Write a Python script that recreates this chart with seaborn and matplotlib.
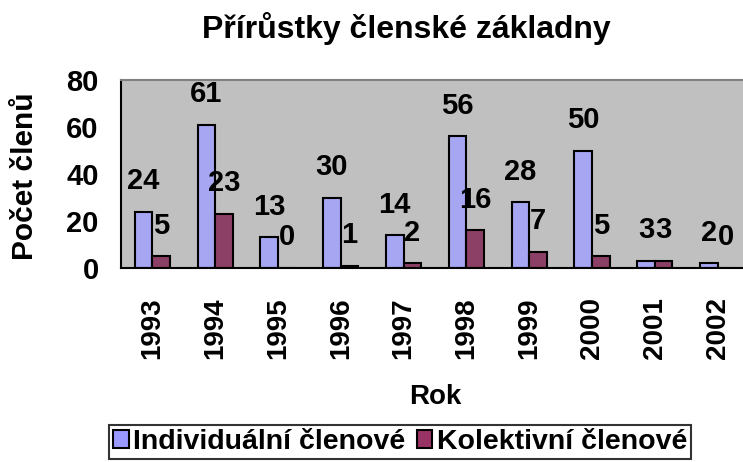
import matplotlib
matplotlib.use("Agg")
import matplotlib.pyplot as plt
import seaborn as sns
import pandas as pd
from matplotlib.patches import Patch

years = ["1993", "1994", "1995", "1996", "1997", "1998", "1999", "2000", "2001", "2002"]
individual = [24, 61, 13, 30, 14, 56, 28, 50, 3, 2]
collective = [5, 23, 0, 1, 2, 16, 7, 5, 3, 0]
series_names = ["Individuální členové", "Kolektivní členové"]
colors = ["#9999FF", "#993366"]

df = pd.DataFrame({
    "Rok": years * 2,
    "Počet": individual + collective,
    "Typ": [series_names[0]] * len(years) + [series_names[1]] * len(years),
})

sns.set_theme(style="white")
plt.rcParams["font.family"] = ["Liberation Sans", "DejaVu Sans"]
plt.rcParams["font.weight"] = "bold"
for key in ["text.color", "axes.labelcolor", "xtick.color", "ytick.color"]:
    plt.rcParams[key] = "black"

W, H = 743, 462
fig = plt.figure(figsize=(W / 100, H / 100), dpi=100)
ax = fig.add_axes([121 / W, 1 - 268 / H, 628 / W, 188 / H])
ax.set_facecolor("#C0C0C0")

sns.barplot(data=df, x="Rok", y="Počet", hue="Typ", palette=colors,
            width=0.56, edgecolor="black", linewidth=1.5, ax=ax, legend=False)

for cont in ax.containers:
    for bar, v in zip(cont, cont.datavalues):
        ax.annotate(f"{v:g}", (bar.get_x() + bar.get_width() / 2, bar.get_height()),
                    xytext=(0, 22), textcoords="offset points", ha="center", va="center",
                    fontsize=21, fontweight="bold", color="black")

ax.set_ylim(0, 80)
ax.set_yticks([0, 20, 40, 60, 80])
ax.set_xlim(-0.5, 9.5)
ax.set_xticks(range(len(years)))
ax.set_xticklabels(years, rotation=90, fontsize=20, fontweight="bold", color="black")
ax.set_xticks([i - 0.5 for i in range(len(years) + 1)], minor=True)
ax.tick_params(axis="x", which="major", length=0, pad=21, labelcolor="black")
ax.tick_params(axis="x", which="minor", length=7, width=1.5, color="black", direction="out")
ax.tick_params(axis="y", which="major", length=7, width=1.5, color="black", direction="out",
               labelsize=21, pad=9, labelcolor="black")
for lab in ax.get_yticklabels():
    lab.set_fontweight("bold")

for s in ["left", "bottom"]:
    ax.spines[s].set_color("black")
    ax.spines[s].set_linewidth(1.5)
ax.spines["top"].set_color("#808080")
ax.spines["top"].set_linewidth(1.5)
ax.spines["right"].set_visible(False)

ax.set_xlabel("Rok", fontsize=20, fontweight="bold", va="center", ha="center", color="black")
ax.xaxis.set_label_coords(0.5, (268 - 397) / 188)
ax.set_ylabel("Počet členů", fontsize=21.5, fontweight="bold", va="center", ha="center",
              color="black")
ax.yaxis.set_label_coords((25 - 121) / 628, (268 - 176) / 188)

fig.text(406 / W, 1 - 38 / H, "Přírůstky členské základny", ha="center", va="baseline",
         fontsize=23, fontweight="bold", color="black")

handles = [Patch(facecolor=c, edgecolor="black", linewidth=1.5) for c in colors]
leg = fig.legend(handles, series_names, loc="center", bbox_to_anchor=(400 / W, 1 - 442 / H),
                 ncol=2, frameon=True, fancybox=False, handlelength=0.55,
                 handleheight=0.55, handletextpad=0.15, columnspacing=0.4, borderpad=0.15,
                 borderaxespad=0, prop={"weight": "bold", "size": 20.5}, labelcolor="black")
leg.get_frame().set_edgecolor("black")
leg.get_frame().set_linewidth(1.5)

fig.savefig("out.png", dpi=100)
